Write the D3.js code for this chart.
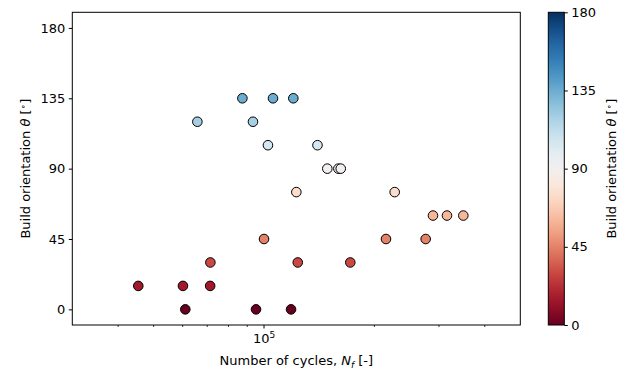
<!DOCTYPE html>
<html>
<head>
<meta charset="utf-8">
<script src="https://cdn.jsdelivr.net/npm/d3@7"></script>
<style>
  body { margin: 0; background: #fff; }
  svg text { font-family: "DejaVu Sans", sans-serif; fill: #000; }
</style>
</head>
<body>
<svg id="chart"></svg>
<script>
// fatigue life vs build orientation, coloured by orientation
const width = 629, height = 376;

// data
const cycles = [87300, 105800, 120200, 65800, 93300, 102500, 139900, 122500,
  148800, 159500, 161900, 227200, 100000, 71400, 123600, 45400, 60100, 71300,
  61000, 95100, 118500, 289000, 315500, 349600, 215100, 276000, 171900];
const orientation = [135, 135, 135, 120, 120, 105, 105, 75,
  90, 90, 90, 75, 45, 30, 30, 15, 15, 15,
  0, 0, 0, 60, 60, 60, 45, 45, 30];
const yTicks = [0, 45, 90, 135, 180];
const cbTicks = [0, 45, 90, 135, 180];

const data = cycles.map((n, i) => ({ n: n, theta: orientation[i] }));

const svg = d3.select("#chart").attr("width", width).attr("height", height);

const plotLeft = 72.3, plotRight = 520.3, plotTop = 12.3, plotBottom = 325;
const fs = "13px";

const x = d3.scaleLog().domain([3e4, 5e5]).range([plotLeft, plotRight]);
const y = d3.scaleLinear().domain([-10, 190]).range([plotBottom, plotTop]);
const color = d3.scaleSequential(d3.interpolateRdBu).domain([0, 180]);

// y axis
const yAxis = svg.append("g")
  .attr("transform", `translate(${plotLeft},0)`)
  .call(d3.axisLeft(y).tickValues(yTicks).tickSize(3.5).tickPadding(3.5));
yAxis.select(".domain").remove();
yAxis.selectAll("text").style("font-size", fs);
yAxis.selectAll("line").attr("stroke", "#000");

// x axis: one labelled decade, minor ticks for the rest
const minor = [4e4, 5e4, 6e4, 7e4, 8e4, 9e4, 2e5, 3e5, 4e5];
const xg = svg.append("g").attr("transform", `translate(0,${plotBottom})`);
xg.selectAll("line.minor")
  .data(minor)
  .enter().append("line")
  .attr("x1", d => x(d)).attr("x2", d => x(d))
  .attr("y1", 0).attr("y2", 2)
  .attr("stroke", "#000").attr("stroke-width", 0.8);
xg.append("line")
  .attr("x1", x(1e5)).attr("x2", x(1e5))
  .attr("y1", 0).attr("y2", 3.5)
  .attr("stroke", "#000");
const t5 = xg.append("text")
  .attr("x", x(1e5))
  .attr("y", 18)
  .attr("text-anchor", "middle")
  .style("font-size", fs);
t5.append("tspan").text("10");
t5.append("tspan").attr("dy", -5).style("font-size", "9px").text("5");

// points
svg.append("g")
  .selectAll("circle")
  .data(data)
  .enter().append("circle")
  .attr("cx", d => x(d.n))
  .attr("cy", d => y(d.theta))
  .attr("r", 4.8)
  .attr("fill", d => color(d.theta))
  .attr("stroke", "#000")
  .attr("stroke-width", 1);

// frame
svg.append("rect")
  .attr("x", plotLeft).attr("y", plotTop)
  .attr("width", plotRight - plotLeft).attr("height", plotBottom - plotTop)
  .attr("fill", "none").attr("stroke", "#000").attr("stroke-width", 1);

// axis labels
const xl = svg.append("text")
  .attr("x", (plotLeft + plotRight) / 2)
  .attr("y", 365)
  .attr("text-anchor", "middle")
  .style("font-size", fs);
xl.append("tspan").text("Number of cycles, ");
xl.append("tspan").style("font-style", "italic").text("N");
xl.append("tspan").style("font-style", "italic").style("font-size", "9px").attr("dy", 3).text("f");
xl.append("tspan").attr("dy", -3).text(" [-]");

function thetaLabel(g) {
  g.append("tspan").text("Build orientation ");
  g.append("tspan").style("font-style", "italic").text("θ");
  g.append("tspan").text(" [");
  g.append("tspan").attr("dy", -4).style("font-size", "9px").text("∘");
  g.append("tspan").attr("dy", 4).text("]");
}

const yl = svg.append("text")
  .attr("transform", `translate(30,${(plotTop + plotBottom) / 2}) rotate(-90)`)
  .attr("text-anchor", "middle")
  .style("font-size", fs);
thetaLabel(yl);

// colorbar
const cbLeft = 548.3, cbWidth = 16;
const cbY = d3.scaleLinear().domain([0, 180]).range([plotBottom, plotTop]);

const grad = svg.append("defs").append("linearGradient")
  .attr("id", "cbgrad")
  .attr("x1", "0").attr("y1", "1").attr("x2", "0").attr("y2", "0");
grad.selectAll("stop")
  .data(d3.range(0, 1.0001, 0.05))
  .enter().append("stop")
  .attr("offset", d => d)
  .attr("stop-color", d => d3.interpolateRdBu(d));

svg.append("rect")
  .attr("x", cbLeft).attr("y", plotTop)
  .attr("width", cbWidth).attr("height", plotBottom - plotTop)
  .attr("fill", "url(#cbgrad)")
  .attr("stroke", "#000").attr("stroke-width", 1);

const cbAxis = svg.append("g")
  .attr("transform", `translate(${cbLeft + cbWidth},0)`)
  .call(d3.axisRight(cbY).tickValues(cbTicks).tickSize(3.5).tickPadding(3.5));
cbAxis.select(".domain").remove();
cbAxis.selectAll("text").style("font-size", fs);
cbAxis.selectAll("line").attr("stroke", "#000");

const cl = svg.append("text")
  .attr("transform", `translate(616,${(plotTop + plotBottom) / 2}) rotate(-90)`)
  .attr("text-anchor", "middle")
  .style("font-size", fs);
thetaLabel(cl);
</script>
</body>
</html>
